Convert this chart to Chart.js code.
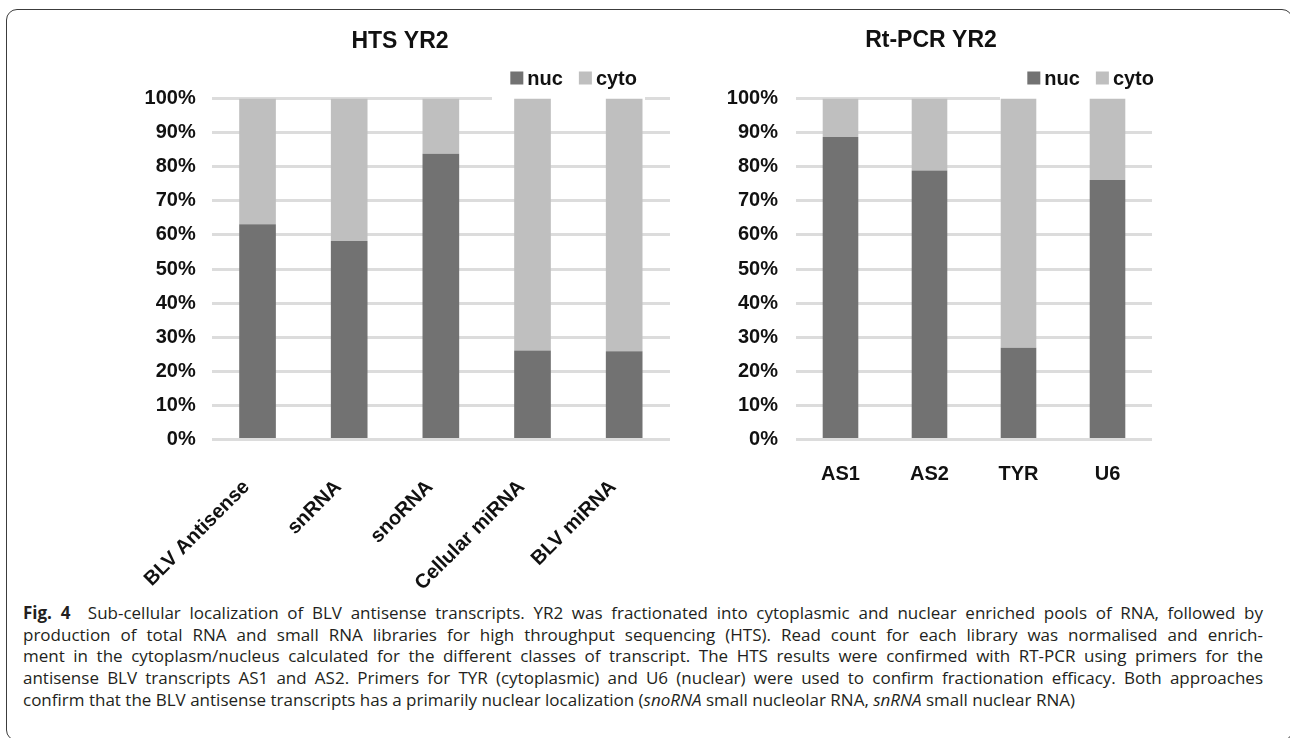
<!DOCTYPE html>
<html>
<head>
<meta charset="utf-8">
<script src="https://cdn.jsdelivr.net/npm/chart.js@4.4.1/dist/chart.umd.min.js"></script>
<style>
  html, body { margin: 0; padding: 0; background: #fff; }
  body { width: 1290px; height: 738px; position: relative; overflow: hidden; }
  .frame {
    position: absolute; left: 6px; top: 9px; width: 1287px; height: 732px;
    border: 1.5px solid #3c3c3c; border-radius: 11px; box-sizing: border-box;
  }
  #hts { position: absolute; left: 0; top: 0; width: 690px; height: 600px; }
  #rt  { position: absolute; left: 690px; top: 0; width: 600px; height: 600px; }
  .caption {
    position: absolute; left: 23px; top: 602px; width: 1240px;
    font-family: "Open Sans", "Noto Sans", sans-serif; font-size: 17px;
    line-height: 21.7px; color: #231f20;
  }
  .caption div { text-align: justify; text-align-last: justify; white-space: nowrap; }
  .caption div.last { text-align-last: left; }
</style>
</head>
<body>
<div class="frame"></div>
<canvas id="hts" width="690" height="600"></canvas>
<canvas id="rt" width="600" height="600"></canvas>
<div class="caption">
  <div><b>Fig. 4</b>&nbsp; Sub-cellular localization of BLV antisense transcripts. YR2 was fractionated into cytoplasmic and nuclear enriched pools of RNA, followed by</div>
  <div>production of total RNA and small RNA libraries for high throughput sequencing (HTS). Read count for each library was normalised and enrich-</div>
  <div>ment in the cytoplasm/nucleus calculated for the different classes of transcript. The HTS results were confirmed with RT-PCR using primers for the</div>
  <div>antisense BLV transcripts AS1 and AS2. Primers for TYR (cytoplasmic) and U6 (nuclear) were used to confirm fractionation efficacy. Both approaches</div>
  <div class="last">confirm that the BLV antisense transcripts has a primarily nuclear localization (<i>snoRNA</i> small nucleolar RNA, <i>snRNA</i> small nuclear RNA)</div>
</div>
<script>
// HTS (high throughput sequencing) fractions, percent of reads
const htsCategories = ['BLV Antisense', 'snRNA', 'snoRNA', 'Cellular miRNA', 'BLV miRNA'];
const htsNuc  = [63.1, 58.2, 83.8, 26.1, 25.9];
const htsCyto = [36.9, 41.8, 16.2, 73.9, 74.1];

// RT-PCR fractions, percent
const rtCategories = ['AS1', 'AS2', 'TYR', 'U6'];
const rtNuc  = [88.7, 78.9, 26.9, 76.1];
const rtCyto = [11.3, 21.1, 73.1, 23.9];

const seriesNames = ['nuc', 'cyto'];
const yTicks = [0, 10, 20, 30, 40, 50, 60, 70, 80, 90, 100];

const NUC_COLOR = '#727272';
const CYTO_COLOR = '#bfbfbf';
const GRID_COLOR = '#dcdcdc';
const FONT = '"Liberation Sans", Arial, Helvetica, sans-serif';

// Title and legend drawn at fixed spots; a white panel behind the legend
// hides the part of the top gridline it overlaps.
const headerPlugin = {
  id: 'header',
  beforeDatasetsDraw(chart, args, opts) {
    const ctx = chart.ctx;
    ctx.save();
    ctx.fillStyle = '#ffffff';
    ctx.fillRect(opts.panel[0], chart.chartArea.top - 4, opts.panel[1] - opts.panel[0], 8);
    ctx.restore();
  },
  afterDraw(chart, args, opts) {
    const ctx = chart.ctx;
    ctx.save();
    ctx.fillStyle = '#111';
    ctx.font = 'bold 23px ' + FONT;
    ctx.textAlign = 'center';
    ctx.textBaseline = 'middle';
    ctx.fillText(opts.title, opts.titleX, opts.titleY);

    ctx.font = 'bold 20px ' + FONT;
    ctx.textAlign = 'left';
    const box = 13, boxGap = 4, itemGap = 16;
    const items = chart.data.datasets.map(d => ({ text: d.label, color: d.backgroundColor }));
    const widths = items.map(it => box + boxGap + ctx.measureText(it.text).width);
    const total = widths.reduce((a, b) => a + b, 0) + itemGap * (items.length - 1);
    let x = opts.legendRight - total;
    items.forEach((it, i) => {
      ctx.fillStyle = it.color;
      ctx.fillRect(x, opts.legendY - box / 2, box, box);
      ctx.fillStyle = '#111';
      ctx.fillText(it.text, x + box + boxGap, opts.legendY + 1);
      x += widths[i] + itemGap;
    });
    ctx.restore();
  }
};

function makeChart(canvasId, categories, nuc, cyto, cfg) {
  return new Chart(document.getElementById(canvasId), {
    type: 'bar',
    data: {
      labels: categories,
      datasets: [
        { label: seriesNames[0], data: nuc, backgroundColor: NUC_COLOR },
        { label: seriesNames[1], data: cyto, backgroundColor: CYTO_COLOR }
      ]
    },
    options: {
      responsive: false,
      animation: false,
      layout: { padding: { top: 98.5, right: cfg.padRight, bottom: 0, left: 0 } },
      datasets: { bar: { categoryPercentage: 1, barPercentage: 0.4, borderWidth: 0 } },
      plugins: {
        legend: { display: false },
        title: { display: false },
        tooltip: { enabled: false },
        header: cfg.header
      },
      scales: {
        x: {
          stacked: true,
          grid: { display: false, drawTicks: false },
          border: { display: false },
          ticks: {
            color: '#111',
            font: { family: FONT, weight: 'bold', size: 20 },
            padding: cfg.xPad,
            labelOffset: cfg.xOffset,
            autoSkip: false,
            minRotation: cfg.rotation,
            maxRotation: cfg.rotation
          },
          afterFit: s => { s.height = cfg.xHeight; }
        },
        y: {
          stacked: true,
          min: 0,
          max: 100,
          afterBuildTicks: s => { s.ticks = yTicks.map(v => ({ value: v })); },
          ticks: {
            color: '#111',
            font: { family: FONT, weight: 'bold', size: 20 },
            padding: cfg.yPad,
            callback: v => v + '%'
          },
          grid: { color: GRID_COLOR, lineWidth: 3, drawTicks: false },
          border: { display: false },
          afterFit: s => { s.width = cfg.yWidth; }
        }
      }
    },
    plugins: [headerPlugin]
  });
}

makeChart('hts', htsCategories, htsNuc, htsCyto, {
  padRight: 20, yWidth: 211.7, yPad: 16, xPad: 36, xOffset: -11, xHeight: 160.5, rotation: 45,
  header: { title: 'HTS YR2', titleX: 400, titleY: 42, legendRight: 637, legendY: 78, panel: [492, 645] }
});

makeChart('rt', rtCategories, rtNuc, rtCyto, {
  padRight: 138, yWidth: 106, yPad: 18, xPad: 23, xOffset: 0, xHeight: 160.5, rotation: 0,
  header: { title: 'Rt-PCR YR2', titleX: 241, titleY: 41, legendRight: 464, legendY: 78, panel: [310, 466] }
});
</script>
</body>
</html>
